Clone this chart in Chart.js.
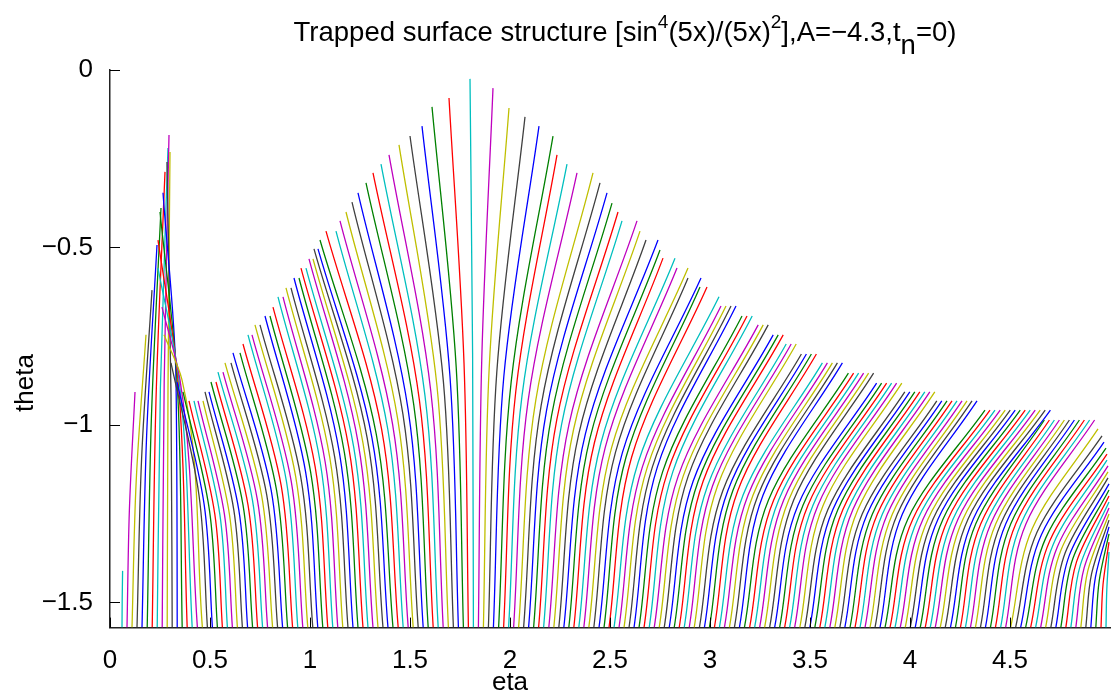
<!DOCTYPE html>
<html>
<head>
<meta charset="utf-8">
<script src="https://cdn.jsdelivr.net/npm/chart.js@4.4.1/dist/chart.umd.min.js"></script>
<style>
  html, body { margin: 0; padding: 0; background: #fff; }
  canvas { display: block; }
</style>
</head>
<body>
<canvas id="graph" width="1111" height="700"></canvas>
<script>
// every curve starts on the bottom edge (theta = -pi/2), bends and stops at its tip
const thetaBottom = -1.5708;

const etaStart = [
  0.060, 0.085, 0.110, 0.135, 0.160, 0.186, 0.211, 0.236, 0.261, 0.286,
  0.311, 0.336, 0.361, 0.386, 0.411, 0.437, 0.462, 0.487, 0.512, 0.537,
  0.562, 0.587, 0.612, 0.637, 0.662, 0.688, 0.713, 0.738, 0.763, 0.788,
  0.813, 0.838, 0.863, 0.888, 0.913, 0.939, 0.964, 0.989, 1.014, 1.039,
  1.064, 1.089, 1.114, 1.139, 1.164, 1.190, 1.215, 1.240, 1.265, 1.290,
  1.315, 1.340, 1.365, 1.390, 1.415, 1.441, 1.466, 1.491, 1.516, 1.541,
  1.566, 1.591, 1.616, 1.641, 1.666, 1.692, 1.717, 1.742, 1.767, 1.792,
  1.817, 1.842, 1.867, 1.892, 1.917, 1.943, 1.968, 1.993, 2.018, 2.043,
  2.068, 2.093, 2.118, 2.143, 2.168, 2.194, 2.219, 2.244, 2.269, 2.294,
  2.319, 2.344, 2.369, 2.394, 2.419, 2.445, 2.470, 2.495, 2.520, 2.545,
  2.570, 2.595, 2.620, 2.645, 2.670, 2.696, 2.721, 2.746, 2.771, 2.796,
  2.821, 2.846, 2.871, 2.896, 2.921, 2.947, 2.972, 2.997, 3.022, 3.047,
  3.072, 3.097, 3.122, 3.147, 3.172, 3.198, 3.223, 3.248, 3.273, 3.298,
  3.323, 3.348, 3.373, 3.398, 3.423, 3.449, 3.474, 3.499, 3.524, 3.549,
  3.574, 3.599, 3.624, 3.649, 3.674, 3.700, 3.725, 3.750, 3.775, 3.800,
  3.825, 3.850, 3.875, 3.900, 3.925, 3.951, 3.976, 4.001, 4.026, 4.051,
  4.076, 4.101, 4.126, 4.151, 4.176, 4.202, 4.227, 4.252, 4.277, 4.302,
  4.327, 4.352, 4.377, 4.402, 4.427, 4.453, 4.478, 4.503, 4.528, 4.553,
  4.578, 4.603, 4.628, 4.653, 4.678, 4.704, 4.729, 4.754, 4.779, 4.804,
  4.829, 4.854, 4.879, 4.904, 4.929, 4.955, 4.980
];

const etaMid = [
  0.061, 0.097, 0.131, 0.158, 0.183, 0.207, 0.230, 0.252, 0.271, 0.290,
  0.305, 0.330, 0.335, 0.340, 0.345, 0.350, 0.360, 0.445, 0.471, 0.497,
  0.524, 0.549, 0.572, 0.597, 0.619, 0.644, 0.665, 0.690, 0.712, 0.737,
  0.758, 0.784, 0.806, 0.833, 0.856, 0.882, 0.906, 0.928, 0.953, 0.978,
  1.003, 1.026, 1.051, 1.076, 1.099, 1.124, 1.147, 1.172, 1.194, 1.219,
  1.241, 1.265, 1.286, 1.310, 1.331, 1.358, 1.389, 1.413, 1.439, 1.465,
  1.491, 1.519, 1.547, 1.575, 1.604, 1.635, 1.667, 1.700, 1.731, 1.770,
  1.813, 1.859, 1.896, 1.934, 1.969, 2.006, 2.029, 2.060, 2.091, 2.129,
  2.156, 2.183, 2.208, 2.234, 2.258, 2.295, 2.318, 2.344, 2.377, 2.399,
  2.422, 2.455, 2.476, 2.508, 2.527, 2.562, 2.580, 2.608, 2.641, 2.662,
  2.687, 2.712, 2.737, 2.763, 2.788, 2.814, 2.841, 2.866, 2.891, 2.916,
  2.941, 2.966, 2.988, 3.013, 3.038, 3.064, 3.089, 3.114, 3.139, 3.165,
  3.190, 3.215, 3.240, 3.265, 3.292, 3.318, 3.343, 3.368, 3.393, 3.418,
  3.440, 3.465, 3.490, 3.515, 3.540, 3.566, 3.589, 3.614, 3.639, 3.664,
  3.689, 3.714, 3.739, 3.761, 3.786, 3.812, 3.837, 3.862, 3.887, 3.912,
  3.937, 3.962, 3.990, 4.015, 4.040, 4.066, 4.091, 4.116, 4.141, 4.166,
  4.191, 4.216, 4.241, 4.266, 4.291, 4.317, 4.329, 4.354, 4.379, 4.404,
  4.429, 4.454, 4.479, 4.504, 4.529, 4.555, 4.580, 4.612, 4.636, 4.657,
  4.679, 4.699, 4.717, 4.737, 4.756, 4.776, 4.796, 4.814, 4.833, 4.852,
  4.871, 4.889, 4.908, 4.927, 4.946, 4.965, 4.984
];

const thetaMid = [
  -1.491, -1.239, -1.158, -1.095, -1.032, -0.980, -0.929, -0.895, -0.877, -0.901,
  -0.915, -0.873, -0.873, -0.873, -0.873, -0.873, -0.873, -1.198, -1.225, -1.239,
  -1.251, -1.251, -1.251, -1.251, -1.239, -1.239, -1.225, -1.225, -1.211, -1.211,
  -1.198, -1.198, -1.184, -1.184, -1.171, -1.158, -1.158, -1.144, -1.144, -1.132,
  -1.132, -1.119, -1.105, -1.105, -1.092, -1.092, -1.078, -1.078, -1.064, -1.064,
  -1.051, -1.051, -1.037, -1.037, -1.025, -1.012, -1.012, -0.998, -0.985, -0.971,
  -0.958, -0.944, -0.930, -0.918, -0.905, -0.891, -0.878, -0.864, -0.837, -0.825,
  -0.798, -0.811, -0.839, -0.851, -0.864, -0.878, -0.905, -0.918, -0.930, -0.930,
  -0.944, -0.958, -0.973, -0.985, -0.998, -0.998, -1.012, -1.025, -1.025, -1.039,
  -1.050, -1.050, -1.064, -1.064, -1.078, -1.078, -1.091, -1.091, -1.105, -1.118,
  -1.118, -1.118, -1.118, -1.132, -1.132, -1.132, -1.144, -1.144, -1.144, -1.158,
  -1.158, -1.158, -1.171, -1.171, -1.171, -1.185, -1.185, -1.185, -1.185, -1.198,
  -1.198, -1.198, -1.198, -1.198, -1.212, -1.212, -1.212, -1.212, -1.212, -1.212,
  -1.226, -1.226, -1.226, -1.226, -1.226, -1.226, -1.239, -1.239, -1.239, -1.239,
  -1.239, -1.239, -1.239, -1.251, -1.251, -1.251, -1.251, -1.251, -1.251, -1.251,
  -1.251, -1.251, -1.264, -1.264, -1.264, -1.264, -1.264, -1.264, -1.264, -1.264,
  -1.264, -1.264, -1.264, -1.264, -1.264, -1.264, -1.278, -1.278, -1.278, -1.278,
  -1.278, -1.278, -1.278, -1.278, -1.278, -1.278, -1.278, -1.291, -1.301, -1.309,
  -1.318, -1.326, -1.335, -1.343, -1.351, -1.360, -1.368, -1.377, -1.385, -1.394,
  -1.402, -1.411, -1.419, -1.429, -1.439, -1.450, -1.464
];

const etaTip = [
  0.063, 0.125, 0.180, 0.210, 0.235, 0.255, 0.275, 0.290, 0.295, 0.300,
  0.285, 0.265, 0.250, 0.240, 0.240, 0.260, 0.270, 0.305, 0.335, 0.365,
  0.395, 0.420, 0.440, 0.465, 0.475, 0.495, 0.505, 0.530, 0.540, 0.565,
  0.575, 0.605, 0.615, 0.650, 0.665, 0.690, 0.710, 0.725, 0.750, 0.775,
  0.800, 0.815, 0.840, 0.865, 0.880, 0.905, 0.920, 0.945, 0.955, 0.980,
  0.995, 1.015, 1.020, 1.040, 1.050, 1.080, 1.130, 1.150, 1.180, 1.210,
  1.240, 1.280, 1.315, 1.355, 1.395, 1.445, 1.500, 1.560, 1.610, 1.695,
  1.800, 1.915, 1.995, 2.075, 2.145, 2.215, 2.235, 2.285, 2.335, 2.415,
  2.450, 2.485, 2.510, 2.540, 2.560, 2.635, 2.650, 2.680, 2.740, 2.750,
  2.765, 2.825, 2.835, 2.890, 2.890, 2.955, 2.950, 2.985, 3.045, 3.055,
  3.080, 3.105, 3.130, 3.160, 3.185, 3.211, 3.241, 3.266, 3.291, 3.316,
  3.341, 3.366, 3.381, 3.406, 3.431, 3.457, 3.482, 3.507, 3.532, 3.562,
  3.587, 3.612, 3.637, 3.662, 3.692, 3.718, 3.743, 3.768, 3.793, 3.818,
  3.833, 3.858, 3.883, 3.908, 3.933, 3.959, 3.974, 3.999, 4.024, 4.049,
  4.074, 4.099, 4.124, 4.134, 4.159, 4.185, 4.210, 4.235, 4.260, 4.285,
  4.310, 4.335, 4.375, 4.400, 4.425, 4.451, 4.476, 4.501, 4.526, 4.551,
  4.576, 4.601, 4.626, 4.651, 4.676, 4.702, 4.672, 4.697, 4.722, 4.747,
  4.772, 4.797, 4.822, 4.847, 4.872, 4.898, 4.923, 4.940, 4.960, 4.970,
  4.980, 4.985, 4.985, 4.990, 4.990, 4.990, 4.995, 4.995, 4.995, 4.995,
  4.995, 4.995, 4.995, 4.995, 4.995, 4.995, 4.995
];

const thetaTip = [
  -1.411, -0.907, -0.746, -0.620, -0.493, -0.389, -0.287, -0.220, -0.183, -0.231,
  -0.259, -0.346, -0.400, -0.479, -0.558, -0.668, -0.746, -0.825, -0.879, -0.907,
  -0.932, -0.932, -0.932, -0.932, -0.907, -0.907, -0.879, -0.879, -0.851, -0.851,
  -0.825, -0.825, -0.797, -0.797, -0.772, -0.746, -0.746, -0.718, -0.718, -0.693,
  -0.693, -0.668, -0.639, -0.639, -0.614, -0.614, -0.586, -0.586, -0.558, -0.558,
  -0.532, -0.532, -0.504, -0.504, -0.479, -0.454, -0.454, -0.425, -0.400, -0.372,
  -0.346, -0.318, -0.290, -0.265, -0.239, -0.211, -0.186, -0.158, -0.104, -0.079,
  -0.025, -0.051, -0.107, -0.132, -0.158, -0.186, -0.239, -0.265, -0.290, -0.290,
  -0.318, -0.346, -0.375, -0.400, -0.425, -0.425, -0.454, -0.479, -0.479, -0.507,
  -0.530, -0.530, -0.558, -0.558, -0.586, -0.586, -0.611, -0.611, -0.639, -0.665,
  -0.665, -0.665, -0.665, -0.693, -0.693, -0.693, -0.718, -0.718, -0.718, -0.746,
  -0.746, -0.746, -0.772, -0.772, -0.772, -0.800, -0.800, -0.800, -0.800, -0.825,
  -0.825, -0.825, -0.825, -0.825, -0.854, -0.854, -0.854, -0.854, -0.854, -0.854,
  -0.882, -0.882, -0.882, -0.882, -0.882, -0.882, -0.907, -0.907, -0.907, -0.907,
  -0.907, -0.907, -0.907, -0.932, -0.932, -0.932, -0.932, -0.932, -0.932, -0.932,
  -0.932, -0.932, -0.958, -0.958, -0.958, -0.958, -0.958, -0.958, -0.958, -0.958,
  -0.958, -0.958, -0.958, -0.958, -0.958, -0.958, -0.986, -0.986, -0.986, -0.986,
  -0.986, -0.986, -0.986, -0.986, -0.986, -0.986, -0.986, -1.011, -1.031, -1.048,
  -1.065, -1.082, -1.099, -1.115, -1.132, -1.149, -1.166, -1.183, -1.200, -1.217,
  -1.234, -1.251, -1.268, -1.287, -1.307, -1.330, -1.358
];

// colour cycle of the curves (the first one is cyan)
const lineColors = ["#00bfbf", "#bf00bf", "#bfbf00", "#404040", "#0000ff", "#008000", "#ff0000"];

const xTicks = [0, 0.5, 1, 1.5, 2, 2.5, 3, 3.5, 4, 4.5];
const xTickLabels = ["0", "0.5", "1", "1.5", "2", "2.5", "3", "3.5", "4", "4.5"];
const yTicks = [-1.5, -1, -0.5, 0];
const yTickLabels = ["\u22121.5", "\u22121", "\u22120.5", "0"];

const xTitle = "eta";
const yTitle = "theta";
// title pieces: normal text, superscripts and the subscript
const titleParts = [
  ["Trapped surface structure [sin", "base"],
  ["4", "sup"],
  ["(5x)/(5x)", "base"],
  ["2", "sup"],
  ["],A=\u22124.3,t", "base"],
  ["n", "sub"],
  ["=0)", "base"],
];

const FONT = "'Liberation Sans', Arial, Helvetica, sans-serif";
const canvas = document.getElementById("graph");

// theta rises along each curve, so the smooth interpolation runs along the y axis
const datasets = etaStart.map((eta0, i) => ({
  data: [
    { x: eta0, y: thetaBottom },
    { x: etaMid[i], y: thetaMid[i] },
    { x: etaTip[i], y: thetaTip[i] },
  ],
  borderColor: lineColors[i % lineColors.length],
  borderWidth: 1.3,
  pointRadius: 0,
  cubicInterpolationMode: "monotone",
  fill: false,
  order: -i,
}));

// inward ticks, axis labels and the title with its super/subscripts
const decorations = {
  id: "decorations",
  afterDraw(chart) {
    const { ctx, chartArea, scales } = chart;
    ctx.save();
    ctx.strokeStyle = "#000";
    ctx.lineWidth = 1;
    ctx.beginPath();
    xTicks.forEach((v) => {
      const px = Math.round(scales.x.getPixelForValue(v)) + 0.5;
      ctx.moveTo(px, chartArea.bottom);
      ctx.lineTo(px, chartArea.bottom - 10);
    });
    yTicks.forEach((v) => {
      const py = Math.round(scales.y.getPixelForValue(v)) + 0.5;
      ctx.moveTo(chartArea.left, py);
      ctx.lineTo(chartArea.left + 10, py);
    });
    ctx.stroke();

    ctx.fillStyle = "#000";
    ctx.font = "26px " + FONT;
    ctx.textAlign = "center";
    ctx.textBaseline = "middle";
    ctx.fillText(xTitle, 510, 683);
    ctx.save();
    ctx.translate(26, 383);
    ctx.rotate(-Math.PI / 2);
    ctx.fillText(yTitle, 0, 0);
    ctx.restore();

    // title
    const styleOf = {
      base: { size: 27.5, shift: 0 },
      sup: { size: 19, shift: -13 },
      sub: { size: 27.5, shift: 13 },
    };
    ctx.textAlign = "left";
    ctx.textBaseline = "alphabetic";
    let total = 0;
    titleParts.forEach(([t, kind]) => {
      ctx.font = styleOf[kind].size + "px " + FONT;
      total += ctx.measureText(t).width;
    });
    let x = 625 - total / 2;
    titleParts.forEach(([t, kind]) => {
      ctx.font = styleOf[kind].size + "px " + FONT;
      ctx.fillText(t, x, 41 + styleOf[kind].shift);
      x += ctx.measureText(t).width;
    });
    ctx.restore();
  },
};

const chart = new Chart(canvas, {
  type: "line",
  data: { datasets },
  options: {
    indexAxis: "y",
    responsive: false,
    animation: false,
    devicePixelRatio: 1,
    events: [],
    layout: { padding: { top: 70, right: 1, bottom: 0, left: 0 }, autoPadding: false },
    plugins: { legend: { display: false }, tooltip: { enabled: false }, title: { display: false } },
    scales: {
      x: {
        type: "linear",
        position: "bottom",
        min: 0,
        max: 5,
        afterBuildTicks: (axis) => { axis.ticks = xTicks.map((v) => ({ value: v })); },
        afterFit: (axis) => { axis.height = 72.4; },
        grid: { display: false },
        border: { display: true, color: "#222", width: 1.5 },
        ticks: {
          color: "#000",
          font: { family: FONT, size: 26 },
          padding: 10,
          maxRotation: 0,
          autoSkip: false,
          callback: (v, i) => xTickLabels[i],
        },
      },
      y: {
        type: "linear",
        position: "left",
        min: thetaBottom,
        max: 0,
        afterBuildTicks: (axis) => { axis.ticks = yTicks.map((v) => ({ value: v })); },
        afterFit: (axis) => { axis.width = 110; },
        grid: { display: false },
        border: { display: true, color: "#222", width: 1.5 },
        ticks: {
          color: "#000",
          font: { family: FONT, size: 26 },
          padding: 9,
          autoSkip: false,
          callback: (v, i) => yTickLabels[i],
        },
      },
    },
  },
  plugins: [decorations],
});
</script>
</body>
</html>
